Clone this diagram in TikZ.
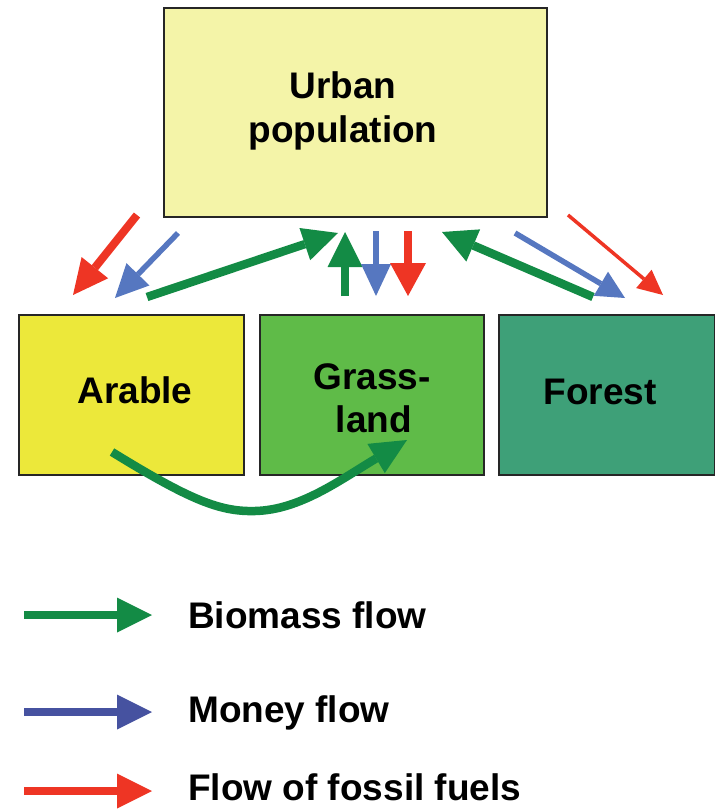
\documentclass[tikz,border=0pt]{standalone}
\usepackage{fontspec}
\setmainfont{Liberation Sans}
\usetikzlibrary{arrows.meta}
\definecolor{urbanfill}{HTML}{F4F4A8}
\definecolor{arablefill}{HTML}{ECE83A}
\definecolor{grassfill}{HTML}{5FBB48}
\definecolor{forestfill}{HTML}{3EA078}
\definecolor{bioG}{HTML}{138B45}
\definecolor{monB}{HTML}{5677C0}
\definecolor{monL}{HTML}{4652A0}
\definecolor{fosR}{HTML}{EE3524}
\tikzset{
  box/.style={draw=black!85, line width=2pt, inner sep=0pt, anchor=north west},
  lbl/.style={font=\bfseries\fontsize{37}{44}\selectfont, align=center},
  leg/.style={font=\bfseries\fontsize{37}{44}\selectfont, anchor=base west, inner sep=0pt},
  flow/.style n args={4}{draw=#1, line width=#2,
    -{Triangle[length=#3, width=#4, line width=0pt]}},
}
\begin{document}
\begin{tikzpicture}[x=1pt,y=-1pt]
\useasboundingbox (0,0) rectangle (715,809);
% boxes
\node[box, fill=urbanfill, minimum width=383pt, minimum height=209pt] (urban) at (163,7) {};
\node[box, fill=arablefill, minimum width=225pt, minimum height=160pt] (arable) at (18,314) {};
\node[box, fill=grassfill, minimum width=224pt, minimum height=160pt] (grass) at (259,314) {};
\node[box, fill=forestfill, minimum width=216pt, minimum height=160pt] (forest) at (498,314) {};
% labels
\node[lbl, anchor=base] (urbanT1) at (343,98) {Urban};
\node[lbl, anchor=base] (urbanT2) at (343,142) {population};
\node[lbl, anchor=base] (arableT) at (135,403) {Arable};
\node[lbl, anchor=base] (grassT1) at (372,389) {Grass-};
\node[lbl, anchor=base] (grassT2) at (374,432) {land};
\node[lbl, anchor=base] (forestT) at (600,404) {Forest};
% coordinates for flows
\coordinate (r1s) at (137,215); \coordinate (r1e) at (73,295);
\coordinate (b1s) at (178,233); \coordinate (b1e) at (115,298);
\coordinate (g1s) at (147,297); \coordinate (g1e) at (338,233);
\coordinate (g2s) at (345,296); \coordinate (g2e) at (345,232);
\coordinate (b2s) at (376,231); \coordinate (b2e) at (376,296);
\coordinate (r2s) at (408,231); \coordinate (r2e) at (408,296);
\coordinate (g3s) at (593,297); \coordinate (g3e) at (442,232);
\coordinate (b3s) at (515,233); \coordinate (b3e) at (625,298);
\coordinate (r3s) at (568,215); \coordinate (r3e) at (663,295);
\coordinate (c0) at (112,452); \coordinate (cm) at (255,511); \coordinate (c1) at (407,440);
% flows
\draw[flow={fosR}{8pt}{35pt}{34pt}] (r1s) -- (r1e);
\draw[flow={monB}{5.5pt}{33pt}{32pt}] (b1s) -- (b1e);
\draw[flow={bioG}{8.5pt}{35pt}{34pt}] (g1s) -- (g1e);
\draw[flow={bioG}{8pt}{35pt}{35pt}] (g2s) -- (g2e);
\draw[flow={monB}{6pt}{32pt}{30pt}] (b2s) -- (b2e);
\draw[flow={fosR}{8pt}{33pt}{36pt}] (r2s) -- (r2e);
\draw[flow={bioG}{8.5pt}{34pt}{35pt}] (g3s) -- (g3e);
\draw[flow={monB}{5.5pt}{28pt}{28pt}] (b3s) -- (b3e);
\draw[flow={fosR}{3.5pt}{25pt}{24pt}] (r3s) -- (r3e);
\draw[flow={bioG}{8.5pt}{36pt}{34pt}] (c0) .. controls (190,500) and (220,512) .. (cm)
  .. controls (300,510) and (340,480) .. (c1);
% legend
\coordinate (l1s) at (24,615); \coordinate (l1e) at (152,615);
\coordinate (l2s) at (24,712); \coordinate (l2e) at (152,712);
\coordinate (l3s) at (24,791); \coordinate (l3e) at (152,791);
\draw[flow={bioG}{8pt}{35pt}{35pt}] (l1s) -- (l1e);
\draw[flow={monL}{8pt}{35pt}{35pt}] (l2s) -- (l2e);
\draw[flow={fosR}{8pt}{35pt}{35pt}] (l3s) -- (l3e);
\node[leg] (leg1) at (188,628) {Biomass flow};
\node[leg] (leg2) at (188,722) {Money flow};
\node[leg] (leg3) at (188,800) {Flow of fossil fuels};
\end{tikzpicture}
\end{document}
